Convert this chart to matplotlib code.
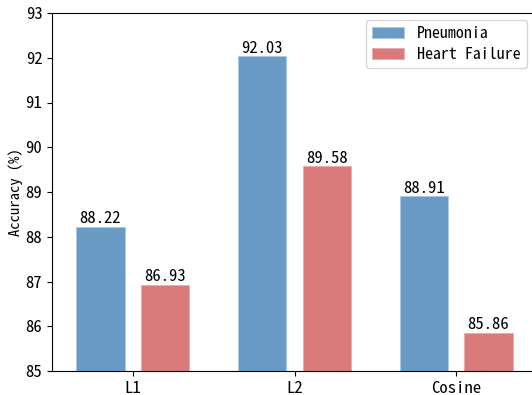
import matplotlib
matplotlib.use("Agg")
import matplotlib.pyplot as plt
import numpy as np

plt.rcParams['font.family'] = ['Noto Sans Mono CJK SC', 'Noto Sans CJK SC', 'DejaVu Sans']

categories = ["L1", "L2", "Cosine"]
series_names = ["Pneumonia", "Heart Failure"]
pneumonia = [88.22, 92.03, 88.91]
heart_failure = [86.93, 89.58, 85.86]
colors = ["#6a9bc5", "#d97b7b"]

fig = plt.figure(figsize=(5.32, 3.95), dpi=100)
left_px, right_px, top_px, bot_px = 52, 537, 13, 371
ax = fig.add_axes([left_px/532, 1 - bot_px/395, (right_px - left_px)/532, (bot_px - top_px)/395])

x = np.arange(len(categories))
w = 0.3
off = 0.2
ax.bar(x - off, np.array(pneumonia) - 85, w, bottom=85, color=colors[0],
       edgecolor="#a9c9e6", linewidth=0.6, label=series_names[0])
ax.bar(x + off, np.array(heart_failure) - 85, w, bottom=85, color=colors[1],
       edgecolor="#eaa9a9", linewidth=0.6, label=series_names[1])

for xs, vals in ((x - off, pneumonia), (x + off, heart_failure)):
    for xi, v in zip(xs, vals):
        ax.text(xi, v + 0.01, f"{v:.2f}", ha="center", va="bottom", fontsize=12)

ax.set_ylim(85, 93)
ax.set_xlim(-0.5, 2.5)
ax.set_yticks(range(85, 94))
ax.set_xticks(x)
ax.set_xticklabels(categories)
ax.tick_params(labelsize=12)
ax.set_ylabel("Accuracy (%)", fontsize=10.5, labelpad=1.5)
ax.spines['right'].set_visible(False)
ax.legend(loc="upper right", fontsize=11.5, handlelength=2.0, borderpad=0.4,
          labelspacing=0.35,
          bbox_to_anchor=(527/532, 1 - 20/395), bbox_transform=fig.transFigure,
          borderaxespad=0)

fig.savefig("out.png", dpi=100)
